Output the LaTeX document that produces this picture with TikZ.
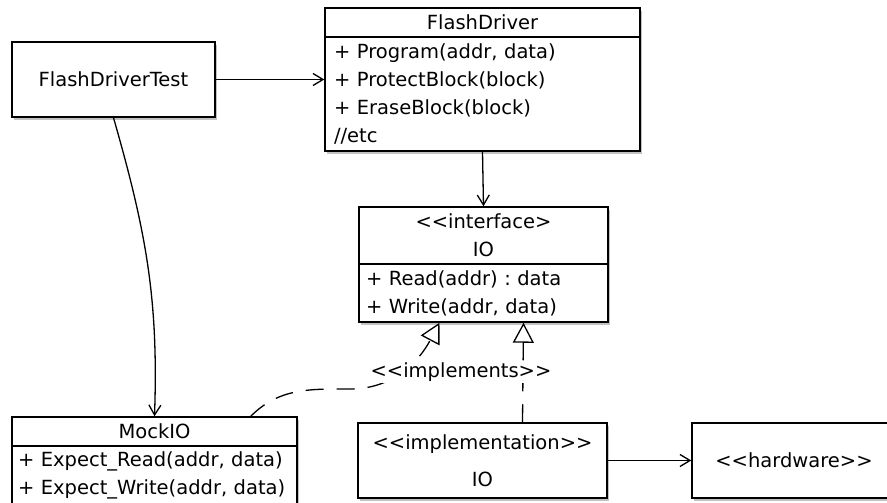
\documentclass[tikz,border=0pt]{standalone}
\usepackage{fontspec}
\setmainfont{DejaVu Sans}[Ligatures=TeXOff]
\usetikzlibrary{positioning,arrows.meta,shadows}
\frenchspacing

\begin{document}
\begin{tikzpicture}[x=1pt,y=1pt]
\tikzstyle{every node}+=[inner sep=0pt, font=\fontsize{19.5}{28}\selectfont]
\tikzstyle{box}=[draw, black, line width=1.5pt, fill=white, drop shadow={shadow xshift=1.5pt, shadow yshift=-3pt, fill=black!60, opacity=0.4}]
\tikzstyle{ops}=[box, align=left]
\tikzstyle{uses}=[black, line width=1.3pt, -{Straight Barb[length=10pt,width=12pt]}]
\tikzstyle{realizes}=[black, line width=1.3pt, dash pattern=on 18pt off 13pt, -{Triangle[open,length=20pt,width=21pt]}]
\useasboundingbox (0,0) rectangle (887,-503);
\node [box, minimum width=203, minimum height=75] (test) at (113.5,-79.5) {FlashDriverTest};
\node [box, minimum width=315, minimum height=29] (fdname) at (482.5,-22.5) {FlashDriver};
\node [ops, below=-1.5pt of fdname, minimum width=315, minimum height=114, text width=297] (fdops) {+ Program(addr, data)\\+ ProtectBlock(block)\\+ EraseBlock(block)\\//etc};
\node [box, minimum width=249, minimum height=57, align=center] (ioname) at (483.5,-235.5) {<<interface>\\IO};
\node [ops, below=-1.5pt of ioname, minimum width=249, minimum height=58, text width=235] (ioops) {+ Read(addr) : data\\+ Write(addr, data)};
\node [box, minimum width=285, minimum height=29] (mockname) at (154.5,-431.5) {MockIO};
\node [ops, below=-1.5pt of mockname, minimum width=285, minimum height=59, text width=273] (mockops) {+ Expect\_Read(addr, data)\\+ Expect\_Write(addr, data)};
\node [box, minimum width=249, minimum height=75, align=center] (impl) at (482.5,-460.5) {<<implementation>>\\[9pt]IO};
\node [box, minimum width=204, minimum height=75] (hw) at (794,-460.5) {<<hardware>>};
\coordinate (bend) at (350,-389);
\draw [uses] (test.east) -- (test.east -| fdops.west);
\draw [uses] (fdops.south) -- (ioname.north);
\draw [uses] (test.south) to [out=-74, in=88] (mockname.north);
\draw [uses] (impl) -- (hw);
\draw [realizes] ([xshift=-47pt]mockname.north east) to [out=45, in=180] (bend) to [out=0, in=-118] ([xshift=-44pt]ioops.south);
\draw [realizes] ([xshift=40pt]impl.north) -- ([xshift=40pt]ioops.south);
\node [fill=white, inner sep=2pt] (implements) at (461,-372) {<<implements>>};
\end{tikzpicture}
\end{document}
